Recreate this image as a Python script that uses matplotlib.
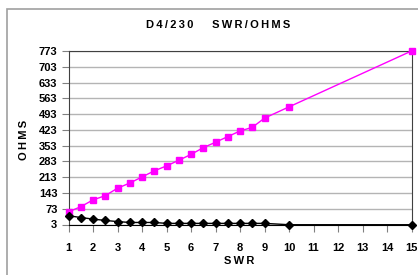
import matplotlib.pyplot as plt
from matplotlib.patches import Rectangle

# SWR values (x) and impedances
swr = [1, 1.5, 2, 2.5, 3, 3.5, 4, 4.5, 5, 5.5, 6, 6.5, 7, 7.5, 8, 8.5, 9, 10, 15]
ohms_high = [59, 82, 112, 131, 164, 187, 214, 241, 263, 288, 314, 344, 368,
             393, 418, 434, 475, 525, 773]
ohms_low = [42, 34, 27, 21, 16, 12, 12, 12, 8, 8, 8, 8, 8, 8, 8, 8, 8, 2, 2]

yticks = list(range(3, 774, 70))
xticks = list(range(1, 16))

plt.rcParams['font.family'] = ['Liberation Sans', 'DejaVu Sans']


def spaced(s):
    return '\u2009'.join(s)


fig = plt.figure(figsize=(4.18, 2.75), dpi=100)
fig.patches.append(Rectangle((7 / 418, -0.1), 1.1, 1.1 - 9 / 275,
                             transform=fig.transFigure, fill=False,
                             edgecolor='#a0a0a0', linewidth=1.2))

ax = fig.add_axes([68.5 / 418, 1 - 224.5 / 275, 343 / 418, 173.5 / 275])

ax.plot(swr, ohms_high, color='#ff00ff', marker='s', markersize=4.5,
        linewidth=1.0, clip_on=False, zorder=3)
ax.plot(swr, ohms_low, color='black', marker='D', markersize=3.8,
        linewidth=1.0, clip_on=False, zorder=3)

ax.set_xlim(1, 15)
ax.set_ylim(3, 773)
ax.set_xticks(xticks)
ax.set_yticks(yticks)
ax.grid(axis='y', color='#b4b4b4', linewidth=1.0)
ax.set_axisbelow(True)

for side in ['top', 'right', 'left']:
    ax.spines[side].set_color('#404040')
ax.spines['bottom'].set_color('black')
ax.tick_params(axis='both', direction='out', length=5, width=0.8,
               color='#808080', labelsize=8, pad=3)
ax.tick_params(axis='x', pad=8)
for lab in ax.get_xticklabels() + ax.get_yticklabels():
    lab.set_fontweight('bold')

fig.text(218 / 418, 1 - 25 / 275, spaced('D4/230') + '      ' + spaced('SWR/OHMS'),
         ha='center', va='center', fontsize=8, fontweight='bold')
fig.text(24 / 418, 1 - 140 / 275, spaced('OHMS'), rotation=90,
         ha='center', va='center', fontsize=8, fontweight='bold')
fig.text(239 / 418, 1 - 261 / 275, spaced('SWR'),
         ha='center', va='center', fontsize=8, fontweight='bold')

fig.savefig('out.png', dpi=100)
